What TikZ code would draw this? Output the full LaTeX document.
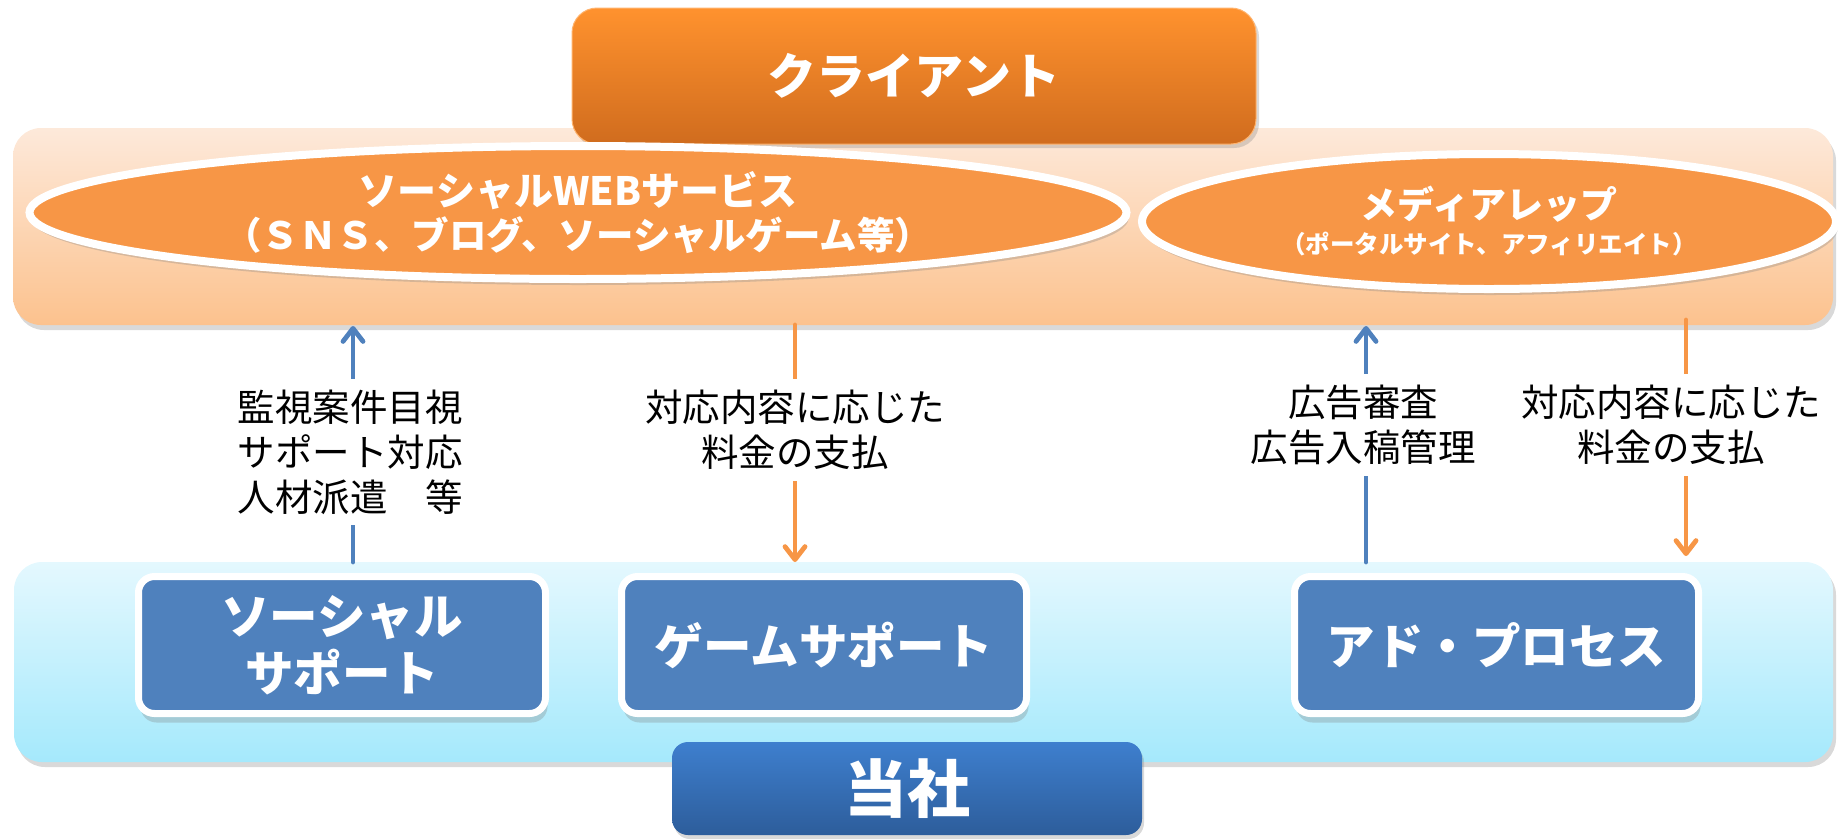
\documentclass[tikz,border=0pt]{standalone}
\usepackage{fontspec}
\setmainfont{Noto Sans CJK JP}
\usetikzlibrary{shapes.geometric,arrows.meta,shadows}
\definecolor{cliTop}{HTML}{FF922E}
\definecolor{cliBot}{HTML}{D06C1E}
\definecolor{bandTop}{HTML}{FDE9DA}
\definecolor{bandBot}{HTML}{FCC28E}
\definecolor{ellFill}{HTML}{F79646}
\definecolor{lowTop}{HTML}{E4F8FE}
\definecolor{lowBot}{HTML}{A5E9FC}
\definecolor{boxBlue}{HTML}{4F81BD}
\definecolor{usTop}{HTML}{3E7FCE}
\definecolor{usBot}{HTML}{2D5D9B}
\definecolor{arrBlue}{HTML}{4F81BD}
\definecolor{arrOrange}{HTML}{F79646}
\begin{document}
\begin{tikzpicture}[x=1pt,y=-1pt,
  every node/.style={inner sep=0pt,outer sep=0pt},
  band/.style={rectangle,rounded corners=28pt,
    drop shadow={shadow xshift=3pt,shadow yshift=-5pt,opacity=0.3}},
  clientbox/.style={rectangle,rounded corners=25pt,top color=cliTop,bottom color=cliBot,
    draw=cliTop!70!white,line width=1pt,text=white,
    font=\fontsize{49}{56}\selectfont\bfseries,
    drop shadow={shadow xshift=3pt,shadow yshift=-4pt,opacity=0.3}},
  ell/.style={ellipse,fill=ellFill,draw=white,line width=8pt,text=white,align=center,
    drop shadow={shadow xshift=2pt,shadow yshift=-6pt,opacity=0.3}},
  wbox/.style={rectangle,rounded corners=16pt,fill=boxBlue,draw=white,line width=7pt,
    text=white,align=center,font=\fontsize{48.5}{57}\selectfont\bfseries,
    drop shadow={shadow xshift=2pt,shadow yshift=-9pt,opacity=0.3}},
  usbox/.style={rectangle,rounded corners=16pt,top color=usTop,bottom color=usBot,
    text=white,font=\fontsize{63}{70}\selectfont\bfseries,
    drop shadow={shadow xshift=2pt,shadow yshift=-4pt,opacity=0.3}},
  lab/.style={fill=white,inner xsep=4pt,inner ysep=11pt,align=center,
    font=\fontsize{37.5}{45}\selectfont},
  barrow/.style={draw=arrBlue,line width=4.8pt,line cap=round,
    -{Straight Barb[length=13pt,width=20pt,round]}},
  oarrow/.style={draw=arrOrange,line width=4.8pt,line cap=round,
    -{Straight Barb[length=13pt,width=20pt,round]}}
]
\useasboundingbox (0,0) rectangle (1841,839);
% bands
\node[band,top color=bandTop,bottom color=bandBot,minimum width=1820,minimum height=197] (upper) at (923,226.5) {};
\node[band,top color=lowTop,bottom color=lowBot,minimum width=1819,minimum height=200] (lower) at (923.5,662) {};
% client
\node[clientbox,minimum width=684,minimum height=136] (client) at (914,76) {クライアント};
% ellipses
\node[ell,minimum width=1097,minimum height=133,font=\fontsize{39}{44}\selectfont\bfseries] (sns) at (578,212.5)
  {ソーシャルWEBサービス\\\fontsize{37.5}{44}\selectfont（ＳＮＳ、ブログ、ソーシャルゲーム等）};
\node[ell,minimum width=694,minimum height=135,font=\fontsize{37}{44}\selectfont\bfseries] (media) at (1489,221.5)
  {メディアレップ\\[-9pt]\fontsize{24.5}{28}\selectfont （ポータルサイト、アフィリエイト）};
% company boxes
\node[wbox,minimum width=407,minimum height=137] (soc) at (342,645) {ソーシャル\\サポート};
\node[wbox,minimum width=405,minimum height=137] (game) at (824,645) {ゲームサポート};
\node[wbox,minimum width=404,minimum height=137] (ad) at (1496.5,645) {アド・プロセス};
\node[usbox,minimum width=470,minimum height=93] (us) at (907,788.5) {当社};
% arrows
\coordinate (a1) at (353,0);
\coordinate (a2) at (795,0);
\coordinate (a3) at (1366,0);
\coordinate (a4) at (1686,0);
\draw[barrow] (lower.north -| a1) -- ([yshift=-1pt]upper.south -| a1);
\draw[oarrow] (upper.south -| a2) -- (lower.north -| a2);
\draw[barrow] (lower.north -| a3) -- ([yshift=-1pt]upper.south -| a3);
\draw[oarrow] ([yshift=5pt]upper.south -| a4) -- ([yshift=6pt]lower.north -| a4);
% labels
\node[lab] (l1) at (350,452) {監視案件目視\\サポート対応\\人材派遣　等};
\node[lab] (l2) at (795,430) {対応内容に応じた\\料金の支払};
\node[lab] (l3) at (1363,425) {広告審査\\広告入稿管理};
\node[lab] (l4) at (1671,425) {対応内容に応じた\\料金の支払};
\end{tikzpicture}
\end{document}
